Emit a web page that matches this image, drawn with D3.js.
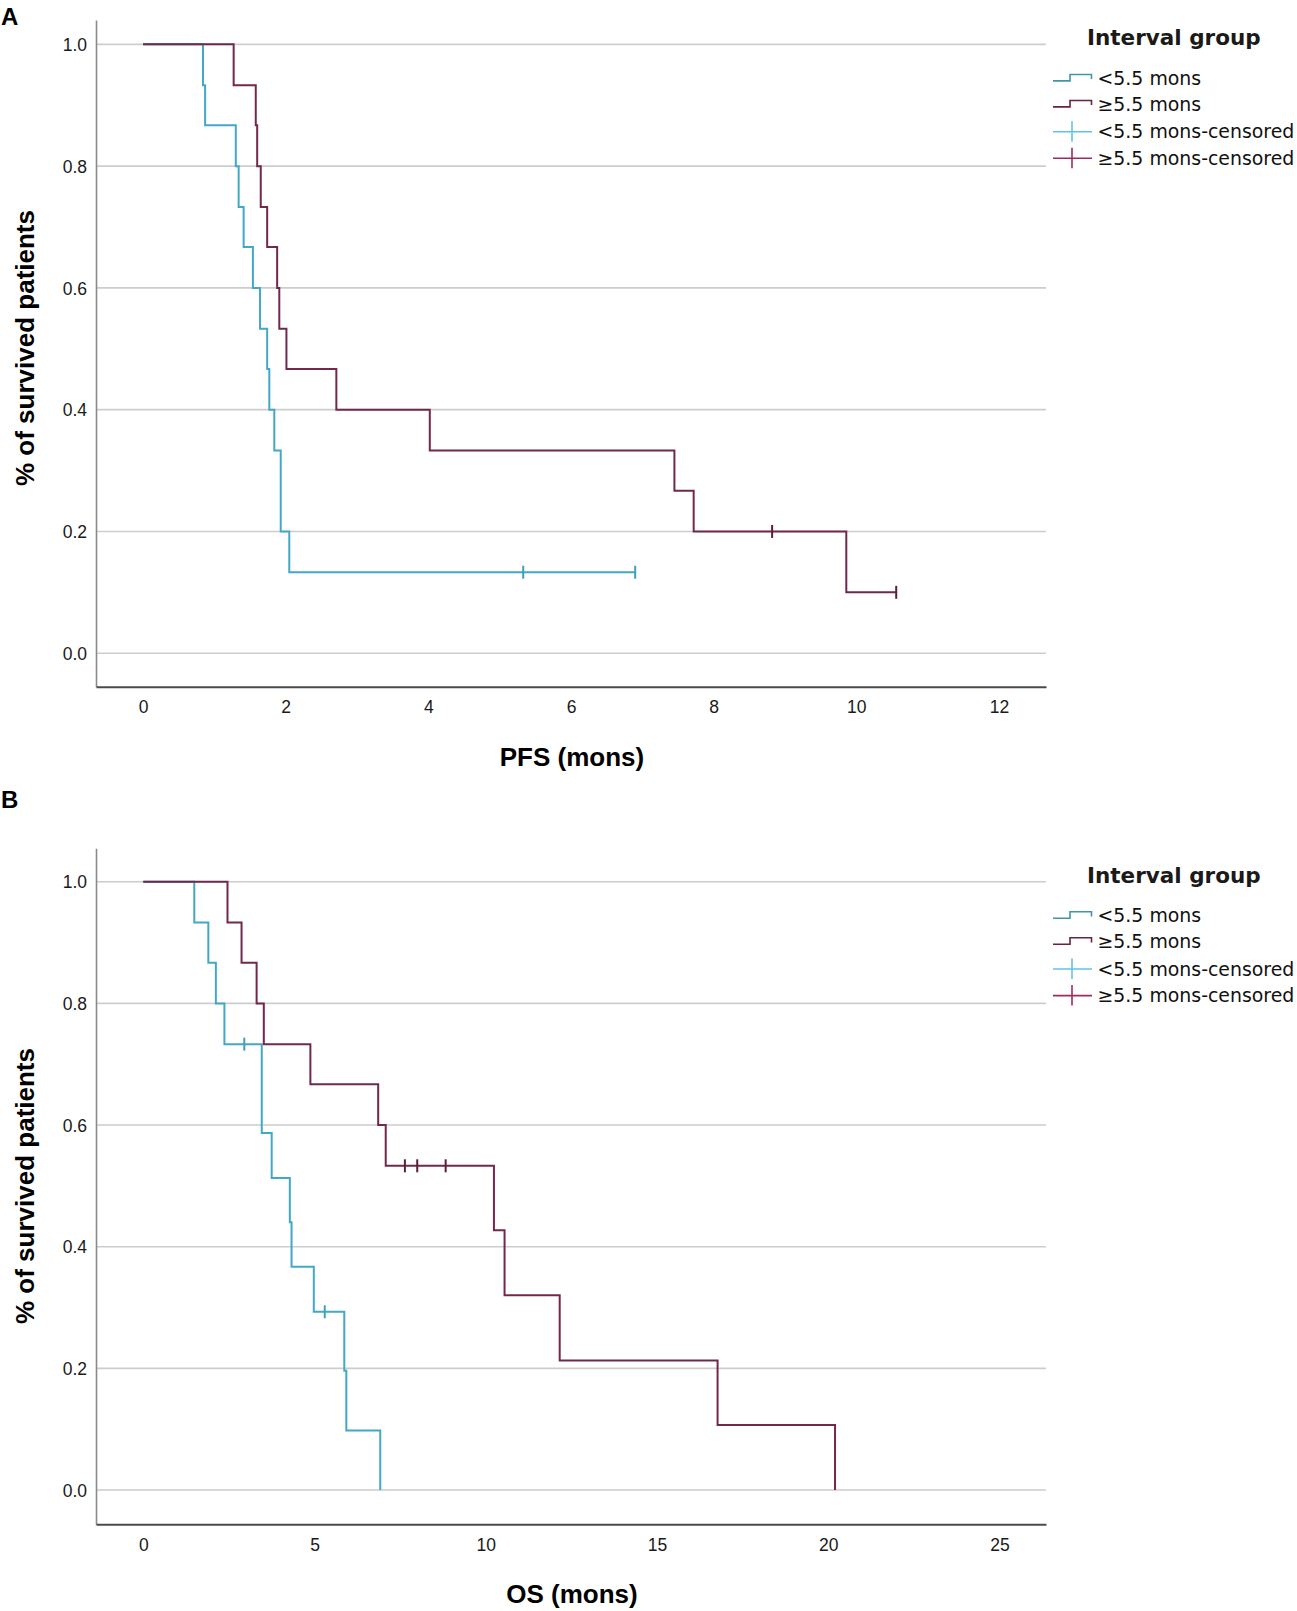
<!DOCTYPE html>
<html>
<head>
<meta charset="utf-8">
<script src="https://cdn.jsdelivr.net/npm/d3@7"></script>
<style>
body{margin:0;background:#fff}
svg{display:block}
</style>
</head>
<body>
<div id="chart"></div>
<script>
// Kaplan-Meier steps (time in months, survival fraction)

// A: PFS, <5.5 mons
var pfs_short_time = [0, 0.84, 0.87, 1.30, 1.34, 1.41, 1.54, 1.64, 1.74, 1.77, 1.84, 1.93, 2.05, 6.90]
var pfs_short_surv = [1, 0.933, 0.867, 0.800, 0.733, 0.667, 0.600, 0.533, 0.467, 0.400, 0.333, 0.200, 0.133, 0.133]
var pfs_short_cens = [5.33, 6.90]
var pfs_short_cens_surv = [0.133, 0.133]

// A: PFS, >=5.5 mons
var pfs_long_time = [0, 1.27, 1.58, 1.60, 1.65, 1.74, 1.88, 1.91, 2.01, 2.71, 4.02, 7.45, 7.72, 9.86, 10.56]
var pfs_long_surv = [1, 0.933, 0.867, 0.800, 0.733, 0.667, 0.600, 0.533, 0.467, 0.400, 0.333, 0.267, 0.200, 0.100, 0.100]
var pfs_long_cens = [8.82, 10.56]
var pfs_long_cens_surv = [0.200, 0.100]

// B: OS, <5.5 mons
var os_short_time = [0, 1.49, 1.90, 2.12, 2.37, 3.46, 3.75, 4.28, 4.33, 4.98, 5.87, 5.93, 6.92]
var os_short_surv = [1, 0.933, 0.867, 0.800, 0.733, 0.587, 0.513, 0.440, 0.367, 0.293, 0.196, 0.098, 0]
var os_short_cens = [2.95, 5.30]
var os_short_cens_surv = [0.733, 0.293]

// B: OS, >=5.5 mons
var os_long_time = [0, 2.46, 2.87, 3.31, 3.52, 4.88, 6.86, 7.08, 10.24, 10.55, 12.16, 16.77, 20.20]
var os_long_surv = [1, 0.933, 0.867, 0.800, 0.733, 0.667, 0.600, 0.533, 0.427, 0.320, 0.213, 0.107, 0]
var os_long_cens = [7.64, 8.00, 8.83]
var os_long_cens_surv = [0.533, 0.533, 0.533]

var y_ticks = [0, 0.2, 0.4, 0.6, 0.8, 1.0]
var pfs_ticks = [0, 2, 4, 6, 8, 10, 12]
var os_ticks = [0, 5, 10, 15, 20, 25]

var legend_title = "Interval group"
var legend_labels = ["<5.5 mons", "\u22655.5 mons", "<5.5 mons-censored", "\u22655.5 mons-censored"]

var COL_SHORT = "#43a8c6"
var COL_LONG = "#72284c"

var svg = d3.select("#chart").append("svg")
    .attr("width", 1297)
    .attr("height", 1611)

function zip(t, s){
    return t.map(function(d, i){ return {t: d, s: s[i]} })
}

function draw_panel(p){
    var g = svg.append("g")

    var x = d3.scaleLinear().domain(p.xdom).range([96, 1046])
    var y = d3.scaleLinear().domain(p.ydom).range([p.bottom, p.top])

    // panel letter
    g.append("text")
        .attr("x", 1).attr("y", p.letter_y)
        .attr("dy", "0.35em")
        .style("font-family", "Liberation Sans, Arial, sans-serif")
        .style("font-weight", "bold")
        .style("font-size", "24px")
        .text(p.letter)

    // gridlines
    g.selectAll(".grid")
        .data(y_ticks)
        .join("line")
        .attr("x1", 96).attr("x2", 1046)
        .attr("y1", d => y(d)).attr("y2", d => y(d))
        .attr("stroke", "#cdcdcd")
        .attr("stroke-width", 1.6)

    // y axis
    var ya = g.append("g")
        .attr("transform", "translate(96,0)")
        .call(d3.axisLeft(y).tickValues(y_ticks).tickFormat(d3.format(".1f")).tickSize(0).tickSizeOuter(0).tickPadding(9))
    ya.select(".domain").attr("stroke", "#8a8a8a").attr("stroke-width", 1.6)
    ya.selectAll("text")
        .attr("dy", "0.35em")
        .style("font-family", "Liberation Sans, Arial, sans-serif")
        .style("font-size", "17.5px")
        .style("fill", "#1a1a1a")

    // x axis
    var xa = g.append("g")
        .attr("transform", "translate(0," + p.bottom + ")")
        .call(d3.axisBottom(x).tickValues(p.xticks).tickSize(0).tickSizeOuter(0))
    xa.select(".domain").attr("stroke", "#4a4a4a").attr("stroke-width", 2)
    xa.selectAll("text")
        .attr("y", 20.5)
        .attr("dy", "0.35em")
        .style("font-family", "Liberation Sans, Arial, sans-serif")
        .style("font-size", "17.5px")
        .style("fill", "#1a1a1a")

    // axis titles
    g.append("text")
        .attr("x", 572).attr("y", p.bottom + 70)
        .attr("dy", "0.35em")
        .attr("text-anchor", "middle")
        .style("font-family", "Liberation Sans, Arial, sans-serif")
        .style("font-weight", "bold")
        .style("font-size", "26px")
        .text(p.xtitle)

    g.append("text")
        .attr("transform", "translate(25," + p.ylab_y + ") rotate(-90)")
        .attr("dy", "0.35em")
        .attr("text-anchor", "middle")
        .style("font-family", "Liberation Sans, Arial, sans-serif")
        .style("font-weight", "bold")
        .style("font-size", "26px")
        .text("% of survived patients")

    // survival curves
    var line = d3.line()
        .x(d => x(d.t))
        .y(d => y(d.s))
        .curve(d3.curveStepAfter)

    p.series.forEach(function(s){
        g.append("path")
            .datum(zip(s.time, s.surv))
            .attr("d", line)
            .attr("fill", "none")
            .attr("stroke", s.color)
            .attr("stroke-width", 2)

        g.selectAll(null)
            .data(zip(s.cens, s.cens_surv))
            .join("line")
            .attr("x1", d => x(d.t)).attr("x2", d => x(d.t))
            .attr("y1", d => y(d.s) - 6.5).attr("y2", d => y(d.s) + 6.5)
            .attr("stroke", s.cens_color)
            .attr("stroke-width", 2)
    })

    // legend
    var lg = g.append("g")
    var ty = p.legend_y
    lg.append("text")
        .attr("x", 1087).attr("y", ty)
        .attr("dy", "0.35em")
        .style("font-family", "DejaVu Sans, sans-serif")
        .style("font-weight", "bold")
        .style("font-size", "21.5px")
        .style("fill", "#1a1a1a")
        .text(legend_title)

    var offs = [40.6, 66.6, 94, 120.6]
    var sym_cols = ["#3f96ab", "#6a2244", "#5ec4e4", "#9c2c5c"]
    legend_labels.forEach(function(lab, i){
        var cy = ty + offs[i]
        if (i < 2){
            lg.append("path")
                .attr("d", "M1053," + (cy + 2.6) + "H1070V" + (cy - 3.8) + "H1091.5V" + (cy + 0.8))
                .attr("fill", "none")
                .attr("stroke", sym_cols[i])
                .attr("stroke-width", 1.6)
        } else {
            lg.append("line")
                .attr("x1", 1053).attr("x2", 1092)
                .attr("y1", cy).attr("y2", cy)
                .attr("stroke", sym_cols[i]).attr("stroke-width", 1.6)
            lg.append("line")
                .attr("x1", 1072).attr("x2", 1072)
                .attr("y1", cy - 10.5).attr("y2", cy + 10)
                .attr("stroke", sym_cols[i]).attr("stroke-width", 1.6)
        }
        lg.append("text")
            .attr("x", 1097.5).attr("y", cy)
            .attr("dy", "0.35em")
            .style("font-family", "DejaVu Sans, sans-serif")
            .style("font-size", "18.9px")
            .style("fill", "#111")
            .text(lab)
    })
}

draw_panel({
    letter: "A", letter_y: 17,
    top: 20, bottom: 686.7,
    ydom: [-0.055, 1.04],
    xdom: [-0.66, 12.66],
    xticks: pfs_ticks,
    xtitle: "PFS (mons)",
    ylab_y: 348,
    legend_y: 37.7,
    series: [
        {time: pfs_short_time, surv: pfs_short_surv, cens: pfs_short_cens, cens_surv: pfs_short_cens_surv, color: COL_SHORT, cens_color: "#3f9fbd"},
        {time: pfs_long_time, surv: pfs_long_surv, cens: pfs_long_cens, cens_surv: pfs_long_cens_surv, color: COL_LONG, cens_color: "#5a1d3a"}
    ]
})

draw_panel({
    letter: "B", letter_y: 800,
    top: 848.3, bottom: 1524.3,
    ydom: [-0.0564, 1.055],
    xdom: [-1.38, 26.36],
    xticks: os_ticks,
    xtitle: "OS (mons)",
    ylab_y: 1186,
    legend_y: 875,
    series: [
        {time: os_short_time, surv: os_short_surv, cens: os_short_cens, cens_surv: os_short_cens_surv, color: COL_SHORT, cens_color: "#3f9fbd"},
        {time: os_long_time, surv: os_long_surv, cens: os_long_cens, cens_surv: os_long_cens_surv, color: COL_LONG, cens_color: "#5a1d3a"}
    ]
})
</script>
</body>
</html>
